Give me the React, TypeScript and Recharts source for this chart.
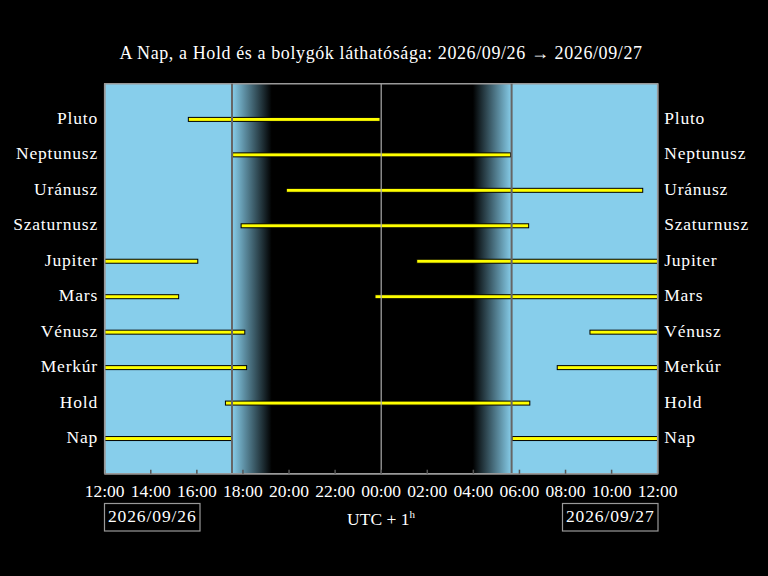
import React from 'react';
import { ComposedChart, Bar, XAxis, YAxis, ReferenceArea, ReferenceLine } from 'recharts';

// Hours after 12:00 (UTC+1) on the first day
const bodies = ['Pluto', 'Neptunusz', 'Uránusz', 'Szaturnusz', 'Jupiter', 'Mars', 'Vénusz', 'Merkúr', 'Hold', 'Nap'];
const firstSpan = [
  [3.63, 11.95],
  [5.55, 17.62],
  [7.88, 23.35],
  [5.92, 18.4],
  [0, 4.04],
  [0, 3.21],
  [0, 6.08],
  [0, 6.16],
  [5.24, 18.45],
  [0, 5.52],
];
const secondSpan = [null, null, null, null, [13.54, 24], [11.73, 24], [21.06, 24], [19.64, 24], null, [17.68, 24]];
const hourTicks = [0, 2, 4, 6, 8, 10, 12, 14, 16, 18, 20, 22, 24];
const sunset = 5.525;
const duskEnd = 7.25;
const dawnStart = 15.98;
const sunrise = 17.66;
const midnight = 12;
const startDate = '2026/09/26';
const endDate = '2026/09/27';
const title = `A Nap, a Hold és a bolygók láthatósága: ${startDate} → ${endDate}`;

const data = bodies.map((name, i) => ({ name, seg1: firstSpan[i], seg2: secondSpan[i] }));

const FONT = "'Liberation Serif', 'Times New Roman', serif";
const SKY = '#87CEEB';
const FS = 17.5;

const fmtHour = (h: number) => `${String((12 + h) % 24).padStart(2, '0')}:00`;

const BarShape = (p: any) => {
  const { x, y, width, height } = p;
  if (![x, y, width, height].every((v) => typeof v === 'number' && Number.isFinite(v)) || width <= 0) return null;
  return <rect x={x} y={y} width={width} height={height} fill="#ffff00" stroke="#000" strokeWidth={1} />;
};

export default function App() {
  return (
    <div style={{ position: 'fixed', left: 0, top: 0, width: 768, height: 576, background: '#000' }}>
      <ComposedChart
        width={768}
        height={576}
        layout="vertical"
        data={data}
        margin={{ top: 83.7, right: 5.3, bottom: 72.3, left: 4.7 }}
        style={{ fontFamily: FONT }}
      >
        <defs>
          <linearGradient id="dusk" x1="0" y1="0" x2="1" y2="0">
            <stop offset="0%" stopColor={SKY} />
            <stop offset="100%" stopColor="#000" />
          </linearGradient>
          <linearGradient id="dawn" x1="0" y1="0" x2="1" y2="0">
            <stop offset="0%" stopColor="#000" />
            <stop offset="100%" stopColor={SKY} />
          </linearGradient>
        </defs>
        <XAxis
          xAxisId="b"
          type="number"
          domain={[0, 24]}
          ticks={hourTicks}
          tickFormatter={fmtHour}
          allowDataOverflow
          height={30}
          tickSize={-4}
          tickMargin={15}
          tickLine={{ stroke: '#555', strokeWidth: 1.5 }}
          axisLine={{ stroke: '#999', strokeWidth: 1.5 }}
          tick={{ fill: '#fff', fontSize: FS, fontFamily: FONT }}
          interval={0}
        />
        <YAxis yAxisId="bg" type="number" domain={[0, 1]} width={0} hide />
        <YAxis
          yAxisId="left"
          type="category"
          dataKey="name"
          width={100}
          tickSize={0}
          tickMargin={6.7}
          padding={{ top: 17.7, bottom: 17.7 }}
          tickLine={false}
          axisLine={{ stroke: '#999', strokeWidth: 1.5 }}
          tick={{ fill: '#fff', fontSize: FS, fontFamily: FONT, dy: -1.5, letterSpacing: 0.8 }}
          interval={0}
        />
        <YAxis
          yAxisId="right"
          orientation="right"
          type="category"
          dataKey="name"
          width={105}
          tickSize={0}
          tickMargin={6.5}
          padding={{ top: 17.7, bottom: 17.7 }}
          tickLine={false}
          axisLine={{ stroke: '#999', strokeWidth: 1.5 }}
          tick={{ fill: '#fff', fontSize: FS, fontFamily: FONT, dy: -1.5, textAnchor: 'start', letterSpacing: 0.8 }}
          interval={0}
        />
        <ReferenceArea xAxisId="b" yAxisId="bg" x1={0} x2={sunset} fill={SKY} fillOpacity={1} stroke="none" />
        <ReferenceArea xAxisId="b" yAxisId="bg" x1={sunset} x2={duskEnd} fill="url(#dusk)" fillOpacity={1} stroke="none" />
        <ReferenceArea xAxisId="b" yAxisId="bg" x1={dawnStart} x2={sunrise} fill="url(#dawn)" fillOpacity={1} stroke="none" />
        <ReferenceArea xAxisId="b" yAxisId="bg" x1={sunrise} x2={24} fill={SKY} fillOpacity={1} stroke="none" />
        <ReferenceArea xAxisId="b" yAxisId="bg" x1={0} x2={24} fill="none" fillOpacity={0} stroke="#999" strokeWidth={1.5} />
        <ReferenceLine xAxisId="b" yAxisId="bg" x={sunset} stroke="#666" strokeWidth={2} />
        <ReferenceLine xAxisId="b" yAxisId="bg" x={sunrise} stroke="#666" strokeWidth={2} />
        <ReferenceLine xAxisId="b" yAxisId="bg" x={midnight} stroke="#aaa" strokeWidth={1.2} />
        <Bar xAxisId="b" yAxisId="left" dataKey="seg1" barSize={4} shape={BarShape} isAnimationActive={false} />
        <Bar xAxisId="b" yAxisId="right" dataKey="seg2" barSize={4} shape={BarShape} isAnimationActive={false} />
      </ComposedChart>
      <svg
        width={768}
        height={576}
        style={{ position: 'absolute', left: 0, top: 0, pointerEvents: 'none' }}
        fontFamily={FONT}
      >
        <text x={381} y={59} textAnchor="middle" fill="#fff" fontSize={18} letterSpacing={0.6}>
          {title}
        </text>
        <rect x={104.5} y={503.5} width={95.5} height={27.5} fill="none" stroke="#999" strokeWidth={1.2} />
        <text x={152.3} y={522} textAnchor="middle" fill="#fff" fontSize={FS} letterSpacing={0.9}>
          {startDate}
        </text>
        <rect x={562.5} y={503.5} width={95.5} height={27.5} fill="none" stroke="#999" strokeWidth={1.2} />
        <text x={610.3} y={522} textAnchor="middle" fill="#fff" fontSize={FS} letterSpacing={0.9}>
          {endDate}
        </text>
        <text x={381} y={525} textAnchor="middle" fill="#fff" fontSize={FS}>
          UTC + 1
          <tspan dy={-7} fontSize={11}>
            h
          </tspan>
        </text>
      </svg>
    </div>
  );
}
